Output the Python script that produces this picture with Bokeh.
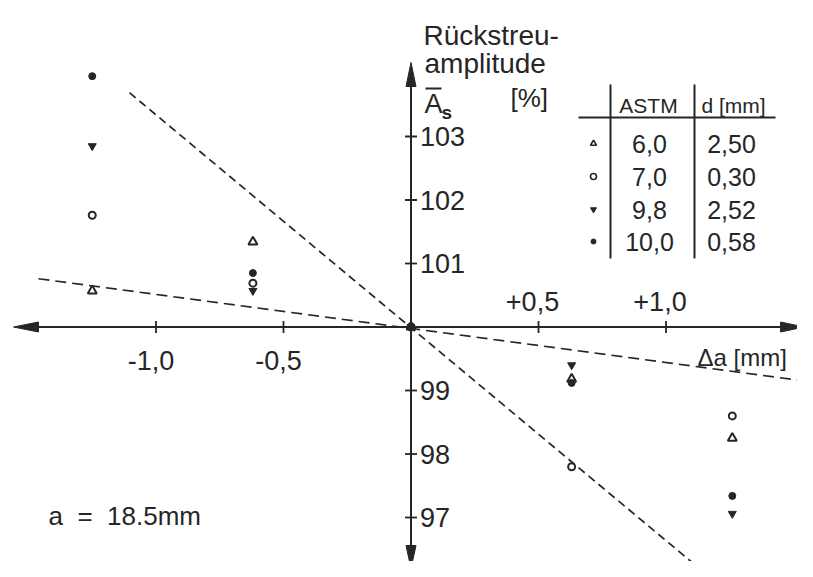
from bokeh.plotting import figure
from bokeh.models import Range1d
from bokeh.core.properties import value
from bokeh.embed import file_html
from bokeh.resources import INLINE

# ---------------- data ----------------
delta_a = [-1.25, -0.62, 0.0, 0.63, 1.26]
astm_60 = [100.57, 101.34, 100.0, 99.18, 98.25]   # triangle
astm_70 = [101.76, 100.69, 100.0, 97.80, 98.60]   # open circle
astm_98 = [102.85, 100.57, 100.0, 99.40, 97.06]   # inverted triangle
astm_100 = [103.95, 100.85, 100.0, 99.12, 97.34]  # filled circle

steep_x = [-1.104, 1.127]
steep_y = [103.69, 96.21]
flat_x = [-1.461, 1.523]
flat_y = [100.76, 99.16]

x_ticks = [-1.0, -0.5, 0.5, 1.0]
x_tick_labels = ["-1,0", "-0,5", "+0,5", "+1,0"]
y_ticks = [97, 98, 99, 101, 102, 103]
y_tick_labels = ["97", "98", "99", "101", "102", "103"]

table_astm = ["6,0", "7,0", "9,8", "10,0"]
table_d = ["2,50", "0,30", "2,52", "0,58"]

# ---------------- geometry ----------------
W, H = 797, 561
OX, OY = 410.5, 326.5       # origin in pixels
SX, SY = 255.0, 63.5         # px per unit

def px2x(rx):
    return (rx - OX) / SX

def py2y(ry):
    return 100 + (OY - ry) / SY

FONT = "Liberation Sans"
INK = "#262626"

p = figure(width=W, height=H, output_backend="svg", toolbar_location=None,
           x_axis_type=None, y_axis_type=None,
           x_range=Range1d(px2x(0), px2x(W)),
           y_range=Range1d(py2y(H), py2y(0)),
           min_border=0)
p.outline_line_color = None
p.background_fill_color = "white"
p.border_fill_color = "white"

def txt(text, rx, ry, size, align="left", style="normal"):
    p.text(x=[px2x(rx)], y=[py2y(ry)], text=[text], text_font=value(FONT),
           text_font_size=f"{size}px", text_align=align, text_baseline="middle",
           text_color=INK, text_font_style=style)

# ---------------- axes ----------------
p.segment(x0=[px2x(25), 0], y0=[100, py2y(80)],
          x1=[px2x(790), 0], y1=[100, py2y(555)], line_color=INK, line_width=2)
heads_x = [
    [px2x(13), px2x(38), px2x(38)],
    [px2x(804), px2x(780), px2x(780)],
    [0, px2x(OX - 5), px2x(OX + 5)],
    [0, px2x(OX - 5), px2x(OX + 5)],
]
heads_y = [
    [100, py2y(OY - 5), py2y(OY + 5)],
    [100, py2y(OY - 5), py2y(OY + 5)],
    [py2y(62), py2y(86), py2y(86)],
    [py2y(568), py2y(545), py2y(545)],
]
p.patches(heads_x, heads_y, fill_color=INK, line_color=INK, line_width=1)

# ticks
p.segment(x0=x_ticks, y0=[py2y(OY - 6)] * len(x_ticks),
          x1=x_ticks, y1=[py2y(OY + 6)] * len(x_ticks), line_color=INK, line_width=1.8)
p.segment(x0=[px2x(OX - 6)] * len(y_ticks), y0=y_ticks,
          x1=[px2x(OX + 6)] * len(y_ticks), y1=y_ticks, line_color=INK, line_width=1.8)

# tick labels
neg = [i for i, t in enumerate(x_ticks) if t < 0]
pos = [i for i, t in enumerate(x_ticks) if t > 0]
p.text(x=[x_ticks[i] for i in neg], y=[100] * len(neg), text=[x_tick_labels[i] for i in neg],
       x_offset=-5, y_offset=33, text_align="center", text_baseline="middle",
       text_font=value(FONT), text_font_size="27px", text_color=INK)
p.text(x=[x_ticks[i] for i in pos], y=[100] * len(pos), text=[x_tick_labels[i] for i in pos],
       x_offset=-6, y_offset=-26, text_align="center", text_baseline="middle",
       text_font=value(FONT), text_font_size="27px", text_color=INK)
p.text(x=[0] * len(y_ticks), y=y_ticks, text=y_tick_labels,
       x_offset=9, y_offset=0, text_align="left", text_baseline="middle",
       text_font=value(FONT), text_font_size="27px", text_color=INK)

# ---------------- fit lines ----------------
p.line(steep_x, steep_y, line_color=INK, line_width=1.7, line_dash="8 5")
p.line(flat_x, flat_y, line_color=INK, line_width=1.7, line_dash="11 6")

# ---------------- data points ----------------
p.scatter(delta_a, astm_60, marker="triangle", size=9, fill_color="white",
          line_color=INK, line_width=2)
p.scatter(delta_a, astm_70, marker="circle", size=7, fill_color="white",
          line_color=INK, line_width=2)
p.scatter(delta_a, astm_98, marker="inverted_triangle", size=8, fill_color=INK,
          line_color=INK, line_width=1)
p.scatter(delta_a, astm_100, marker="circle", size=7, fill_color=INK,
          line_color=INK, line_width=1)

# ---------------- axis titles ----------------
txt("Rückstreu-", 423, 35, 28)
txt("amplitude", 424, 63, 28)
txt("A", 424, 103, 27)
p.segment(x0=[px2x(425)], y0=[py2y(88)], x1=[px2x(441)], y1=[py2y(88)],
          line_color=INK, line_width=2)
txt("s", 441, 112, 19, style="bold")
txt("[%]", 510, 97, 26)
txt("Δa [mm]", 697, 357, 24)
txt("a\u00a0\u00a0=\u00a0\u00a018.5mm", 48, 515, 26)

# ---------------- table legend ----------------
p.segment(x0=[px2x(578), px2x(610), px2x(694)],
          y0=[py2y(117), py2y(84), py2y(84)],
          x1=[px2x(775), px2x(610), px2x(694)],
          y1=[py2y(117), py2y(258), py2y(258)], line_color=INK, line_width=2)
txt("ASTM", 648, 105, 21, align="center")
txt("d [mm]", 733, 105, 21, align="center")
row_y = [143, 176, 209, 241]
for i in range(4):
    txt(table_astm[i], 649, row_y[i], 25, align="center")
    txt(table_d[i], 731, row_y[i], 25, align="center")
mx = px2x(593)
p.scatter([mx], [py2y(row_y[0])], marker="triangle", size=6, fill_color="white", line_color=INK, line_width=1.6)
p.scatter([mx], [py2y(row_y[1])], marker="circle", size=6, fill_color="white", line_color=INK, line_width=1.6)
p.scatter([mx], [py2y(row_y[2])], marker="inverted_triangle", size=6, fill_color=INK, line_color=INK)
p.scatter([mx], [py2y(row_y[3])], marker="circle", size=5, fill_color=INK, line_color=INK)

open("out.html", "w").write(file_html(p, INLINE))
